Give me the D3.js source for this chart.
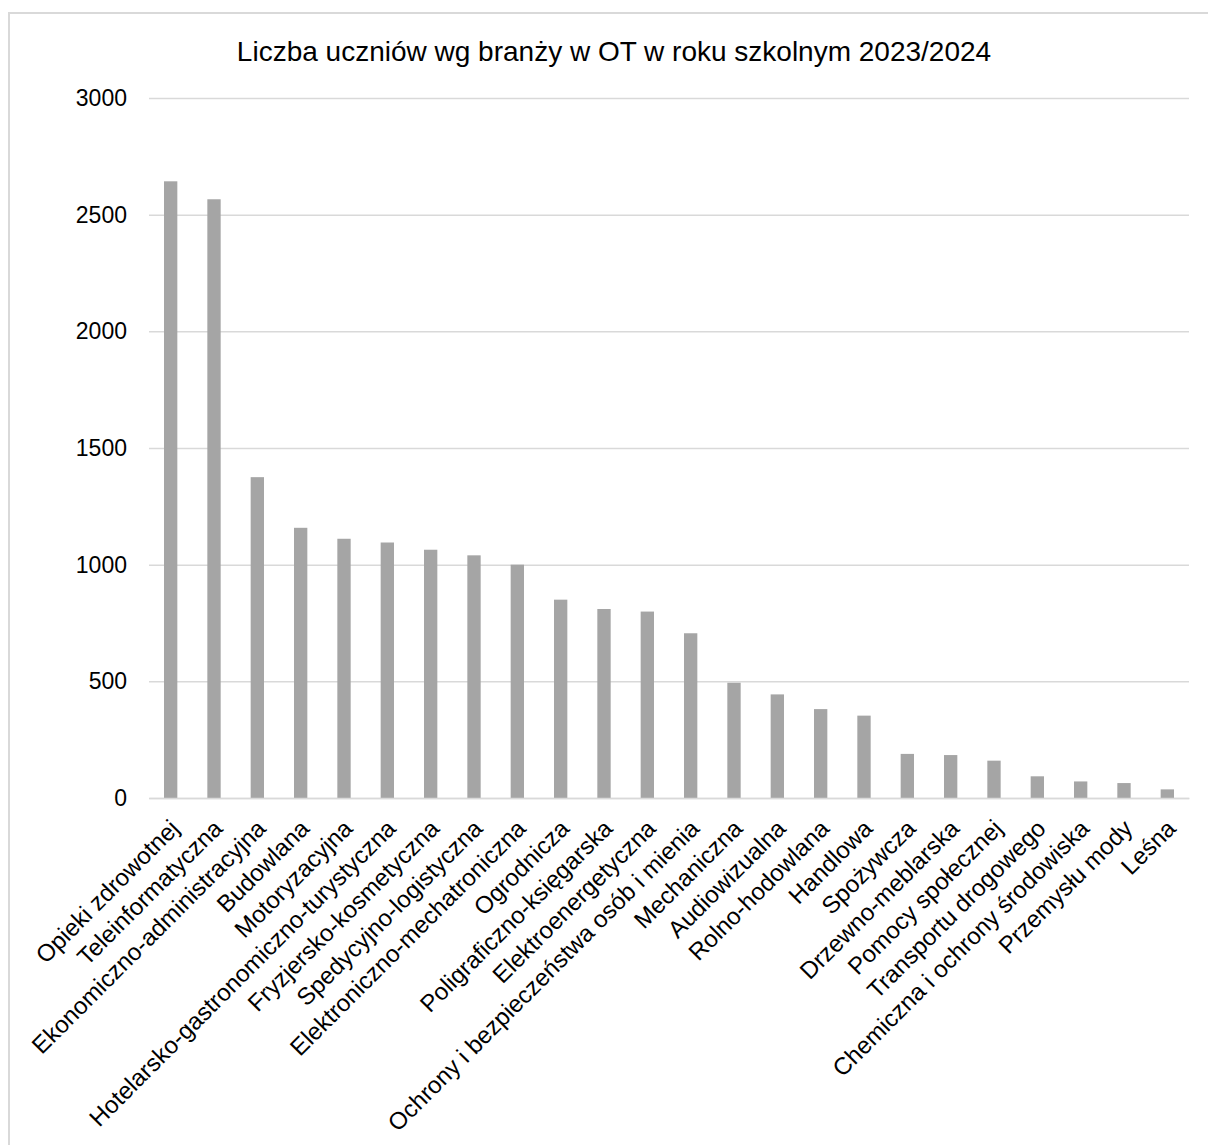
<!DOCTYPE html>
<html lang="pl">
<head>
<meta charset="utf-8">
<script src="https://cdn.jsdelivr.net/npm/d3@7/dist/d3.min.js"></script>
<style>
  html, body { margin: 0; padding: 0; background: #fff; }
  svg { display: block; font-family: "Liberation Sans", Arial, sans-serif; }
</style>
</head>
<body>
<svg id="chart" width="1208" height="1145"></svg>
<script>
// Liczba uczniów według branży (rok szkolny 2023/2024)
const categories = [
  "Opieki zdrowotnej",
  "Teleinformatyczna",
  "Ekonomiczno-administracyjna",
  "Budowlana",
  "Motoryzacyjna",
  "Hotelarsko-gastronomiczno-turystyczna",
  "Fryzjersko-kosmetyczna",
  "Spedycyjno-logistyczna",
  "Elektroniczno-mechatroniczna",
  "Ogrodnicza",
  "Poligraficzno-księgarska",
  "Elektroenergetyczna",
  "Ochrony i bezpieczeństwa osób i mienia",
  "Mechaniczna",
  "Audiowizualna",
  "Rolno-hodowlana",
  "Handlowa",
  "Spożywcza",
  "Drzewno-meblarska",
  "Pomocy społecznej",
  "Transportu drogowego",
  "Chemiczna i ochrony środowiska",
  "Przemysłu mody",
  "Leśna"
];
const students = [
  2643, 2566, 1375, 1158, 1111, 1095, 1064, 1040, 1000, 850,
  810, 799, 706, 494, 444, 381, 353, 189, 184, 160,
  93, 71, 64, 37
];
const yTicks = [0, 500, 1000, 1500, 2000, 2500, 3000];
const title = "Liczba uczniów wg branży w OT w roku szkolnym 2023/2024";

const svg = d3.select("#chart");
const plot = { left: 149, right: 1189, top: 98, bottom: 798 };

// chart frame (open to the right and bottom edges of the page)
svg.append("rect")
  .attr("x", 9).attr("y", 13)
  .attr("width", 1240).attr("height", 1200)
  .attr("fill", "#fff")
  .attr("stroke", "#d9d9d9").attr("stroke-width", 2);

const x = d3.scaleBand()
  .domain(categories)
  .range([plot.left, plot.right])
  .paddingInner(0.6923)
  .paddingOuter(0.3462);

const y = d3.scaleLinear()
  .domain([0, 3000])
  .range([plot.bottom, plot.top]);

// horizontal gridlines with value labels
const yAxis = d3.axisLeft(y)
  .tickValues(yTicks)
  .tickSize(-(plot.right - plot.left))
  .tickPadding(22)
  .tickFormat(d3.format("d"));

const gy = svg.append("g")
  .attr("transform", `translate(${plot.left},0)`)
  .call(yAxis);
gy.select(".domain").remove();
gy.selectAll(".tick line")
  .attr("stroke", "#d9d9d9").attr("stroke-width", 1.5);
gy.selectAll(".tick text")
  .attr("fill", "#000")
  .style("font-size", "23px");

// bars
svg.append("g")
  .selectAll("rect")
  .data(students)
  .join("rect")
  .attr("x", (d, i) => x(categories[i]))
  .attr("width", x.bandwidth())
  .attr("y", d => y(d))
  .attr("height", d => y(0) - y(d))
  .attr("fill", "#a5a5a5");

// category axis with rotated labels
const xAxis = d3.axisBottom(x).tickSize(0).tickPadding(0);
const gx = svg.append("g")
  .attr("transform", `translate(0,${plot.bottom})`)
  .call(xAxis);
gx.select(".domain")
  .attr("stroke", "#d9d9d9").attr("stroke-width", 1.5);
gx.selectAll(".tick text")
  .attr("fill", "#000")
  .style("font-size", "24px")
  .attr("text-anchor", "end")
  .attr("dy", "0.35em")
  .attr("transform", "translate(4,26) rotate(-45)");

// title
svg.append("text")
  .attr("x", 614).attr("y", 61)
  .attr("text-anchor", "middle")
  .attr("fill", "#000")
  .style("font-size", "28px")
  .text(title);
</script>
</body>
</html>
